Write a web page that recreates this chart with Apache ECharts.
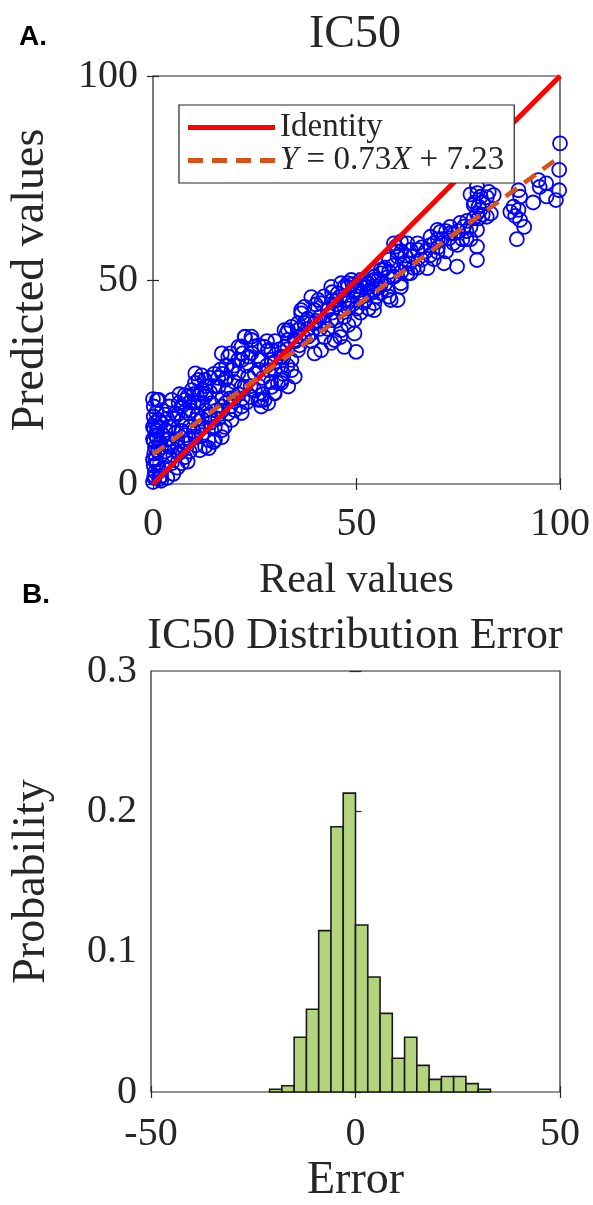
<!DOCTYPE html>
<html lang="en">
<head>
<meta charset="UTF-8">
<title>IC50</title>
<style>
  html, body { margin: 0; padding: 0; background: #fff; }
  #chart { width: 593px; height: 1205px; }
</style>
</head>
<body>
<div id="chart"></div>
<script src="https://cdn.jsdelivr.net/npm/echarts@6/dist/echarts.min.js"></script>
<script>
// [real, predicted] pairs
const predictedVsReal = [
  [100,83.5],[99.8,77],[99.8,72],[99,69.6],[96.7,70.5],[96.6,73.7],[95,72.8],[94.7,74.5],[93.4,69],[90.2,70.4],
  [89.8,67.2],[89,65.7],[90.2,64.7],[91.2,63],[89.4,60],[87.8,66.7],[88.6,68],[89.8,72],[83.7,70.8],[82.5,71.6],
  [82,70.3],[80.5,70.4],[79.6,72.9],[79.7,71.3],[78.8,68.4],[80.4,67.2],[79.6,66.3],[80,65.1],[82,65.5],[83,66.3],
  [78.8,65.1],[77.2,64.5],[79.6,62.3],[79.6,58.2],[79.6,54.9],[76.4,63.1],[75.5,64],[74,61.4],[73.1,61.5],[72.7,60.2],
  [73.8,59],[74.8,58.6],[69.9,62.3],[70.6,61.8],[68.2,60.6],[69,59],[69.9,56.9],[71.5,54.1],[74.7,53.3],[69,55.1],
  [67.4,52.9],[65,57.4],[65,59],[63.7,55.7],[63.3,57.4],[62.5,59],[60.9,59.4],[59.7,58.2],[59.2,59],[60.1,55.7],
  [61.7,54.1],[63.3,51.7],[62.5,51.6],[60.9,49.2],[60.9,48.3],[60.1,45.1],[58.4,45.1],[58,45.9],[57.6,47.5],[56,46.8],
  [59.2,50.8],[57.7,50.7],[56,51.6],[56,52.5],[56.7,52.5],[54.4,50.8],[54.3,50],[53.5,47.5],[52.7,48.3],[54.4,44.3],
  [54.3,42.6],[52.7,49.2],[51.1,48.4],[51.1,46.8],[49.5,47.5],[48.7,50],[47.8,49.2],[47,48.3],[46.2,49.2],[45.4,46.7],
  [47.8,44.3],[49.5,40.2],[49.5,36.9],[49.9,32.4],[46.2,37.7],[47,33.6],[44.6,35.3],[43.8,34.6],[42.9,42.6],[43.8,40.2],
  [41.3,44.3],[39.7,42.6],[39.7,39.4],[39.7,32],[41.3,32.8],[42.1,36],[38.1,36.1],[36.4,41.8],[36.4,42.6],[37.2,39.5],
  [35.6,39.4],[35.6,37.7],[34,38.5],[33.2,37.7],[34.8,35.3],[32.8,36.9],[32.3,37.7],[33.1,35.3],[32.4,33.7],[35.6,32.8],
  [34,30.4],[31.5,31.2],[29.9,27.9],[29.1,30.4],[28.3,32.8],[29.1,32.8],[27.4,33.6],[26.6,30.4],[25,33.7],[24.2,36.1],
  [24.2,35.3],[22.6,36.1],[22.5,36],[21.8,33.7],[21,33.6],[23.4,31.2],[24.2,32.1],[25.9,30.4],[20.9,30.4],[21.8,30.4],
  [18.5,31.2],[16.9,32],[19.3,27.9],[21,27.2],[17.7,25.5],[16.1,23.9],[18.5,23],[21.8,23.9],[22.5,23.8],[23.4,26.3],
  [25,23],[24.2,21.3],[25.9,20.6],[26.6,20.6],[26.6,19],[27.4,20.6],[28.3,19.8],[29.8,22.3],[29.1,23.8],[29.9,22.2],
  [31.5,25.5],[33.2,23.9],[34.8,26.3],[34,27.9],[31.5,28.7],[28.4,27.9],[30.7,24.7],[21.8,19],[20.1,18.1],[18.5,17.3],
  [16.9,19],[14.4,19.8],[12.8,21.4],[11.2,25.5],[10.4,27.1],[9.5,23],[7.9,20.6],[6.3,19.8],[4.6,20.6],[1.4,20.6],
  [2.2,18.1],[5.5,17.3],[7.1,15.7],[8.7,17.3],[10.4,15.7],[12,19.8],[13.6,16.5],[15.2,14],[13.6,10.8],[12.8,9.2],
  [15.2,10.8],[16.9,13.2],[10.4,11.6],[7.9,10],[6.3,7.5],[7.1,5.1],[4.6,5.1],[3,6.7],[3.8,9.2],[5.5,12.4],
  [3,13.2],[1.4,15.7],[13.7,8.8],[14.9,10.3],[11.5,8.3],[7.8,6.6],[21.8,17.4],[19.3,15.7],[17.6,14],[16.9,11.5],
  [31.5,24.8],[38.9,45.8],[40.6,45.1],[37.2,43.4],[43.8,48.3],[47.9,48.3],[51.8,44.4],[53.5,46.8],[55.2,50],
  [0,0.5],[0.3,1.5],[0.5,3],[0.2,4.5],[0.6,6],[0.3,7.5],[0.5,9],[0.2,10.5],[0.6,12],[0.3,13.5],
  [0.5,15],[0.2,16.5],[0.8,17.5],[0.4,2],[1,5],[1.2,8],[1,11],[1.2,14],[0,11],[0,6],
  [0,14],[1.5,3],[2,2],[2.5,4],[1.8,10],[2.4,12],[3.5,11],[4.5,9],[5,14],[6,11],
  [7,13],[8,12],[9,14],[9.5,18],[11,17],[12,14],[3.5,16],[4,19],[6.5,22],[8.5,21.5],
  [10,20],[11.5,22],[13,24],[14,22.5],[15,27],[16.5,28],[18,26],[20,25],[19,21],[17,21],
  [15.5,18],[14,15],[12,12],[10.5,9.5],[9,8],[8.5,5.5],[6,4],[5,2.5],[3.5,1.5],[2,0.8],
  [1.5,1.2],[0.2,19],[1,20.6],[0,20.8],[7.8,21.8],[10.3,24.8],[12.7,25.5],[12,26.6],
  [44,45],[45,44],[46,43],[48,45],[50,46],[52,45],[50,48.5],[49,49],[44,47],[42,46],
  [40,44],[38,40.5],[36,38],[39,37],[41,38],[43,38],[45,40],[47,41],[48,39],[46,36],
  [51,42],[53,43],[55,46],[57,49],[58,52],[59,53.5],[61,52],[62,56],[64,53],[66,55],
  [67,57],[68,58.5],[70,58],[71,60],[72,57],[76,60],[77,62],[78,60],[81,69],[78,71],
  [26,28],[27,26],[28,29],[30,30],[31,33],[32,31],[33,29],[30,35],[28,35],[26,34],
  [25,27],[23,29],[22,32],[20,29],[19,32],[18,29],[17,27],[16,26],[15,24],[14,26],
  [13,22],[12,23],[11,20],[10,22],[9,20],[8,18],[7,19],[6,17],[5,16],[4,14],
  [3,17],[2,15],[1,13],[2,9],[3,8],[4,11],[5,7],[6,9],[7,8],[8,10],
  [9,11],[10,13],[11,14],[12,16],[13,18],[14,17],[16,16],[17,18],[18,20],[19,19],
  [20,21],[21,22],[22,21],[23,20],[24,24],[26,24],[27,22],[29,25],[32,27],[33,33],
  [35,35],[36,34],[37,36],[38,38],[39,35],[40,40],[41,41],[42,40],[43,43],[44,42],
  [45,45],[46,46],[47,45],[48,43],[49,44],[50,43],[51,50],[52,50],[53,49],[54,47],
  [55,48],[56,49],[57,53],[58,55],[60,57],[61,57],[63,54],[65,53],[66,58],[68,56],
  [70,60],[72,62],[73,63],[75,62],[77,60],[78,63],[80,68],[81,66],[79,69]
];

const identityLine = [[0, 0], [100, 100]];
const fitLine = [[0, 7.23], [99, 79.5]];
const fitName = 'Y = 0.73X + 7.23';

// error histogram (panel B), bins of width 3
const binStarts = [-21, -18, -15, -12, -9, -6, -3, 0, 3, 6, 9, 12, 15, 18, 21, 24, 27, 30];
const binProbs = [0.002, 0.0045, 0.039, 0.059, 0.115, 0.189, 0.213, 0.119, 0.082, 0.056,
                  0.024, 0.039, 0.019, 0.009, 0.011, 0.011, 0.006, 0.002];
const binWidth = 3;

const serif = "'Liberation Serif', 'DejaVu Serif', serif";
const ink = '#262626';

const histData = binStarts.map((s, i) => [s, s + binWidth, binProbs[i]]);

function tickAxis (grid, pos, extra) {
    return Object.assign({
        gridIndex: grid,
        type: 'value',
        position: pos,
        splitLine: { show: false },
        axisLine: { show: false },
        axisTick: { inside: true, length: 6, lineStyle: { color: ink, width: 1.2 } },
        axisLabel: { show: false }
    }, extra)
}
const labelStyle = { show: true, fontFamily: serif, fontSize: 40, color: ink };
const nameStyle = size => ({ fontFamily: serif, fontSize: size, color: ink });

const chart = echarts.init(document.getElementById('chart'));
chart.setOption({
    animation: false,
    backgroundColor: '#fff',
    grid: [
        { left: 151, top: 76, width: 409, height: 408, show: true, borderColor: ink, borderWidth: 1.2, backgroundColor: 'transparent' },
        { left: 151, top: 671, width: 409, height: 430, show: true, borderColor: ink, borderWidth: 1.2, backgroundColor: 'transparent' }
    ],
    xAxis: [
        tickAxis(0, 'bottom', { min: 0, max: 100, interval: 50, axisLabel: Object.assign({ margin: 20 }, labelStyle),
            name: 'Real values', nameLocation: 'middle', nameGap: 76, nameTextStyle: nameStyle(42) }),
        tickAxis(0, 'top', { min: 0, max: 100, interval: 50 }),
        tickAxis(1, 'bottom', { min: -50, max: 50, interval: 50, axisLabel: Object.assign({ margin: 22 }, labelStyle),
            name: 'Error', nameLocation: 'middle', nameGap: 66, nameTextStyle: nameStyle(46) }),
        tickAxis(1, 'top', { min: -50, max: 50, interval: 50 })
    ],
    yAxis: [
        tickAxis(0, 'left', { min: 0, max: 100, interval: 50, axisLabel: Object.assign({ margin: 15 }, labelStyle),
            name: 'Predicted values', nameLocation: 'middle', nameGap: 99, nameTextStyle: nameStyle(46) }),
        tickAxis(0, 'right', { min: 0, max: 100, interval: 50 }),
        tickAxis(1, 'left', { min: 0, max: 0.3, interval: 0.1, axisLabel: Object.assign({ margin: 14 }, labelStyle),
            name: 'Probability', nameLocation: 'middle', nameGap: 96, nameTextStyle: nameStyle(46) }),
        tickAxis(1, 'right', { min: 0, max: 0.3, interval: 0.1 })
    ],
    legend: {
        data: [
            { name: 'Identity', icon: 'rect' },
            { name: fitName, icon: 'path://M0 0h15v5H0zM24 0h15v5H24zM48 0h15v5H48zM72 0h15v5H72z' }
        ],
        orient: 'vertical',
        left: 179,
        top: 105,
        z: 10,
        selectedMode: false,
        padding: [6, 10, 6, 9],
        itemGap: 0,
        itemWidth: 87,
        itemHeight: 5,
        backgroundColor: '#fff',
        borderColor: ink,
        borderWidth: 1.2,
        borderRadius: 0,
        formatter: name => name === fitName ? '{i|Y} = 0.73{i|X} + 7.23' : name,
        textStyle: {
            fontFamily: serif, fontSize: 33, color: ink, lineHeight: 33,
            rich: { i: { fontFamily: serif, fontSize: 33, fontStyle: 'italic', color: ink, lineHeight: 33 } }
        }
    },
    graphic: [
        { type: 'text', left: 19, top: 23, style: { text: 'A.', font: 'bold 28px "Liberation Sans", sans-serif', fill: '#000' } },
        { type: 'text', left: 22, top: 581, style: { text: 'B.', font: 'bold 28px "Liberation Sans", sans-serif', fill: '#000' } },
        { type: 'text', x: 355, y: 35, style: { text: 'IC50', font: '46px ' + serif, fill: ink, align: 'center', verticalAlign: 'middle' } },
        { type: 'text', x: 355, y: 636, style: { text: 'IC50 Distribution Error', font: '44px ' + serif, fill: ink, align: 'center', verticalAlign: 'middle' } }
    ],
    series: [
        {
            type: 'scatter',
            xAxisIndex: 0, yAxisIndex: 0,
            data: predictedVsReal,
            symbol: 'circle',
            symbolSize: 14,
            clip: false,
            z: 2,
            itemStyle: { color: 'rgba(0,0,0,0)', borderColor: '#0000FF', borderWidth: 1.8, opacity: 1 }
        },
        {
            name: 'Identity',
            type: 'line',
            xAxisIndex: 0, yAxisIndex: 0,
            data: identityLine,
            symbol: 'none',
            z: 3,
            itemStyle: { color: '#FF0000' },
            lineStyle: { color: '#FF0000', width: 5 }
        },
        {
            name: fitName,
            type: 'line',
            xAxisIndex: 0, yAxisIndex: 0,
            data: fitLine,
            symbol: 'none',
            z: 4,
            itemStyle: { color: '#D95319' },
            lineStyle: { color: '#D95319', width: 4.5, type: [14, 9] }
        },
        {
            type: 'custom',
            xAxisIndex: 2, yAxisIndex: 2,
            data: histData,
            renderItem (params, api) {
                const topLeft = api.coord([api.value(0), api.value(2)]);
                const bottomRight = api.coord([api.value(1), 0]);
                return {
                    type: 'rect',
                    shape: { x: topLeft[0], y: topLeft[1], width: bottomRight[0] - topLeft[0], height: bottomRight[1] - topLeft[1] },
                    style: { fill: '#B3D37F', stroke: '#1a1a1a', lineWidth: 1.6 }
                }
            }
        }
    ]
});
</script>
</body>
</html>
